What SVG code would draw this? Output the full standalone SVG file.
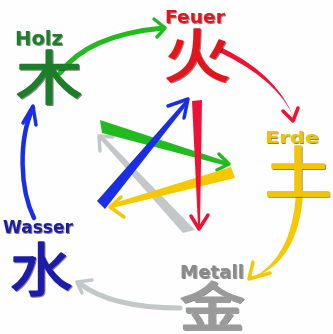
<svg xmlns="http://www.w3.org/2000/svg" width="333" height="334" viewBox="0 0 333 334">
<defs>
<filter id="sh" x="-10%" y="-10%" width="130%" height="130%">
<feDropShadow dx="0.8" dy="1" stdDeviation="0.4" flood-color="#000" flood-opacity="0.5"/>
</filter>
<style>
.lbl{font-family:"DejaVu Sans","Liberation Sans",sans-serif;font-weight:bold;filter:url(#sh)}
.cjk{font-family:"Noto Sans CJK SC","Noto Sans CJK JP",sans-serif;font-weight:normal;text-anchor:middle;stroke-width:1.6;stroke-linejoin:round;filter:url(#sh)}
.arc{fill:none;stroke-linecap:round;stroke-linejoin:round}
.head{fill:none;stroke-linecap:round;stroke-linejoin:round;stroke-width:3.5}
.g{stroke:#22bb1e}.gf{fill:#22bb1e}
.r{stroke:#ee1236}.rf{fill:#ee1236}
.y{stroke:#f5c800}.yf{fill:#f5c800}
.b{stroke:#1a2ee6}.bf{fill:#1a2ee6}
.s{stroke:#c3c7c7}.sf{fill:#c3c7c7}
</style>
</defs>
<rect width="333" height="334" fill="#fdfefd"/>

<g id="connectors">
  <!-- outer cycle -->
  <path class="arc g" stroke-width="5" d="M60 73 Q88 35 163 28"/>
  <polyline class="head g" points="154,19 165,28 157,37"/>

  <path class="rf" d="M216 45 Q276 72 294 118 Q278 80 219 52 Z"/>
  <polyline class="head r" points="283,111 293,121 298,108"/>

  <path class="yf" d="M296 194 L303 195 Q298 262 252 278 Q292 258 296 194 Z"/>
  <polyline class="head y" points="253,262 249,279 270,273"/>

  <path class="arc s" stroke-width="5" d="M180 308 Q111 308 79 283"/>
  <polyline class="head s" points="92,280 77,282 82,293"/>

  <path class="arc b" stroke-width="4.5" d="M34 218 C20 190 18 140 33 108"/>
  <polyline class="head b" points="23,123 33,106 36,125"/>

  <!-- inner star -->
  <polygon class="sf" points="183,233 100,139 103,136 195,230"/>
  <polyline class="head s" points="113,137 99,136 100,151"/>

  <polygon class="gf" points="100,120 228,162 227,166 102,133"/>
  <polyline class="head g" points="219,154 229,164 217,170"/>

  <polygon class="yf" points="231,167 235,178 112,208 111,204"/>
  <polyline class="head y" points="121,197 110,207 124,217"/>

  <polygon class="bf" points="97,201 186,100 189,102 105,209"/>
  <polyline class="head b" points="168,106 188,99 184,118"/>

  <polygon class="rf" points="192,101 202,100 200,226 198,226"/>
  <polyline class="head r" points="191,216 199,229 208,215"/>
</g>

<g id="holz">
  <text class="lbl" x="15" y="45" font-size="19" textLength="48" lengthAdjust="spacingAndGlyphs" fill="#1e7d2a">Holz</text>
  <text class="cjk" x="49" y="99" font-size="58" fill="#1e7d2a" stroke="#1e7d2a" transform="translate(49 0) scale(1.15 1) translate(-49 0)">木</text>
</g>
<g id="feuer">
  <text class="lbl" x="165" y="23" font-size="17" textLength="60" lengthAdjust="spacingAndGlyphs" fill="#e0161e">Feuer</text>
  <text class="cjk" x="197" y="77" font-size="58" fill="#e0161e" stroke="#e0161e" transform="translate(197 0) scale(1.15 1) translate(-197 0)">火</text>
</g>
<g id="erde">
  <text class="lbl" x="265" y="143" font-size="16" textLength="54" lengthAdjust="spacingAndGlyphs" fill="#efc300">Erde</text>
  <text class="cjk" x="298" y="193" font-size="56" fill="#f2c500" stroke="#f2c500" transform="translate(298 0) scale(1.2 1) translate(-298 0)">土</text>
</g>
<g id="wasser">
  <text class="lbl" x="3" y="233" font-size="17" textLength="70" lengthAdjust="spacingAndGlyphs" fill="#1c1ca0">Wasser</text>
  <text class="cjk" x="41" y="291" font-size="58" fill="#1c1ca8" stroke="#1c1ca8" transform="translate(41 0) scale(1.08 1) translate(-41 0)">水</text>
</g>
<g id="metall">
  <text class="lbl" x="180" y="278" font-size="18" textLength="64" lengthAdjust="spacingAndGlyphs" fill="#8a8a8a">Metall</text>
  <text class="cjk" x="212" y="326" font-size="52" fill="#9a9a9a" stroke="#9a9a9a" transform="translate(212 0) scale(1.25 1) translate(-212 0)">金</text>
</g>
</svg>
